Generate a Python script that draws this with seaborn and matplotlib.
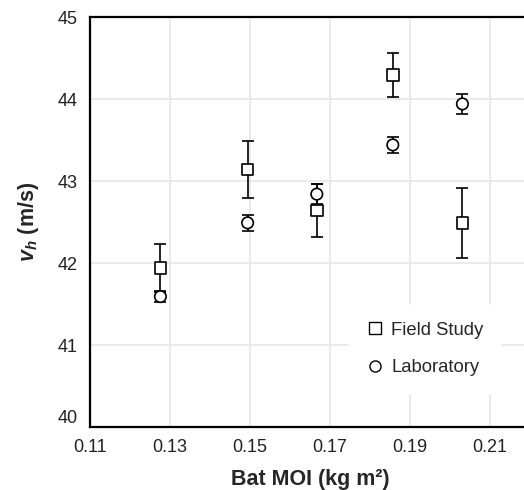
import matplotlib
matplotlib.use("Agg")
import matplotlib.pyplot as plt
import seaborn as sns
import pandas as pd
from matplotlib.lines import Line2D

moi = [0.1276, 0.1494, 0.1667, 0.1857, 0.2031]
field_v = [41.94, 43.14, 42.64, 44.29, 42.49]
field_err = [0.29, 0.35, 0.32, 0.27, 0.43]
lab_v = [41.59, 42.49, 42.84, 43.44, 43.94]
lab_err = [0.07, 0.10, 0.12, 0.10, 0.12]
series = ["Field Study", "Laboratory"]
xticks = [0.11, 0.13, 0.15, 0.17, 0.19, 0.21]
yticks = [40, 41, 42, 43, 44, 45]

sns.set_theme(style="whitegrid")
plt.rcParams["font.family"] = ["Liberation Sans", "DejaVu Sans"]
plt.rcParams["mathtext.fontset"] = "custom"
plt.rcParams["mathtext.rm"] = "Liberation Sans"
plt.rcParams["mathtext.it"] = "Liberation Sans:italic"
plt.rcParams["mathtext.bf"] = "Liberation Sans:bold"
plt.rcParams["mathtext.bfit"] = "Liberation Sans:italic:bold"

df = pd.DataFrame({
    "moi": moi * 2,
    "v": field_v + lab_v,
    "err": field_err + lab_err,
    "series": [series[0]] * len(moi) + [series[1]] * len(moi),
})

fig = plt.figure(figsize=(5.24, 4.9), dpi=100)
ax = fig.add_axes([90 / 524, 63 / 490, 440 / 524, 410 / 490])

for s in series:
    d = df[df.series == s]
    ax.errorbar(d.moi, d.v, yerr=d.err, fmt="none", ecolor="black",
                elinewidth=1.2, capsize=4.0, capthick=1.2, zorder=2)

sns.scatterplot(data=df, x="moi", y="v", style="series",
                markers={"Field Study": "s", "Laboratory": "o"},
                s=68, facecolor="white", edgecolor="black", linewidth=1.2,
                legend=False, ax=ax, zorder=3)

ax.set_xlim(0.11, 0.22)
ax.set_ylim(40, 45)
ax.set_xticks(xticks)
ax.set_xticklabels([f"{t:.2f}" for t in xticks])
ax.set_yticks(yticks)
ax.set_yticklabels([str(t) for t in yticks])
ax.tick_params(axis="both", length=0, labelsize=13, colors="#222222")
ax.tick_params(axis="y", pad=9)
ax.tick_params(axis="x", pad=8.5)
ax.get_yticklabels()[0].set_va("bottom")

ax.grid(True, color="#e6e6e6", linewidth=1.2)
ax.set_axisbelow(True)
for side in ["left", "top", "bottom", "right"]:
    ax.spines[side].set_color("black")
    ax.spines[side].set_linewidth(1.6)

ax.set_xlabel("Bat MOI (kg m\u00b2)", fontsize=15.5, fontweight="bold", labelpad=9.5)
ax.set_ylabel(r"$\mathbfit{v}_{\mathbfit{h}}$ (m/s)", fontsize=15.5,
              fontweight="bold", labelpad=12)

handles = [
    Line2D([], [], marker="s", linestyle="none", markersize=8,
           markerfacecolor="white", markeredgecolor="black", markeredgewidth=1.0),
    Line2D([], [], marker="o", linestyle="none", markersize=8,
           markerfacecolor="white", markeredgecolor="black", markeredgewidth=1.0),
]
leg = ax.legend(handles, series, loc="lower right", bbox_to_anchor=(0.953, 0.061),
                frameon=True, fontsize=13.3, handletextpad=0.4,
                labelspacing=1.1, borderpad=0.9, handlelength=1.0)
leg.get_frame().set_facecolor("white")
leg.get_frame().set_edgecolor("white")
leg.get_frame().set_alpha(1)

fig.savefig("out.png", dpi=100)
